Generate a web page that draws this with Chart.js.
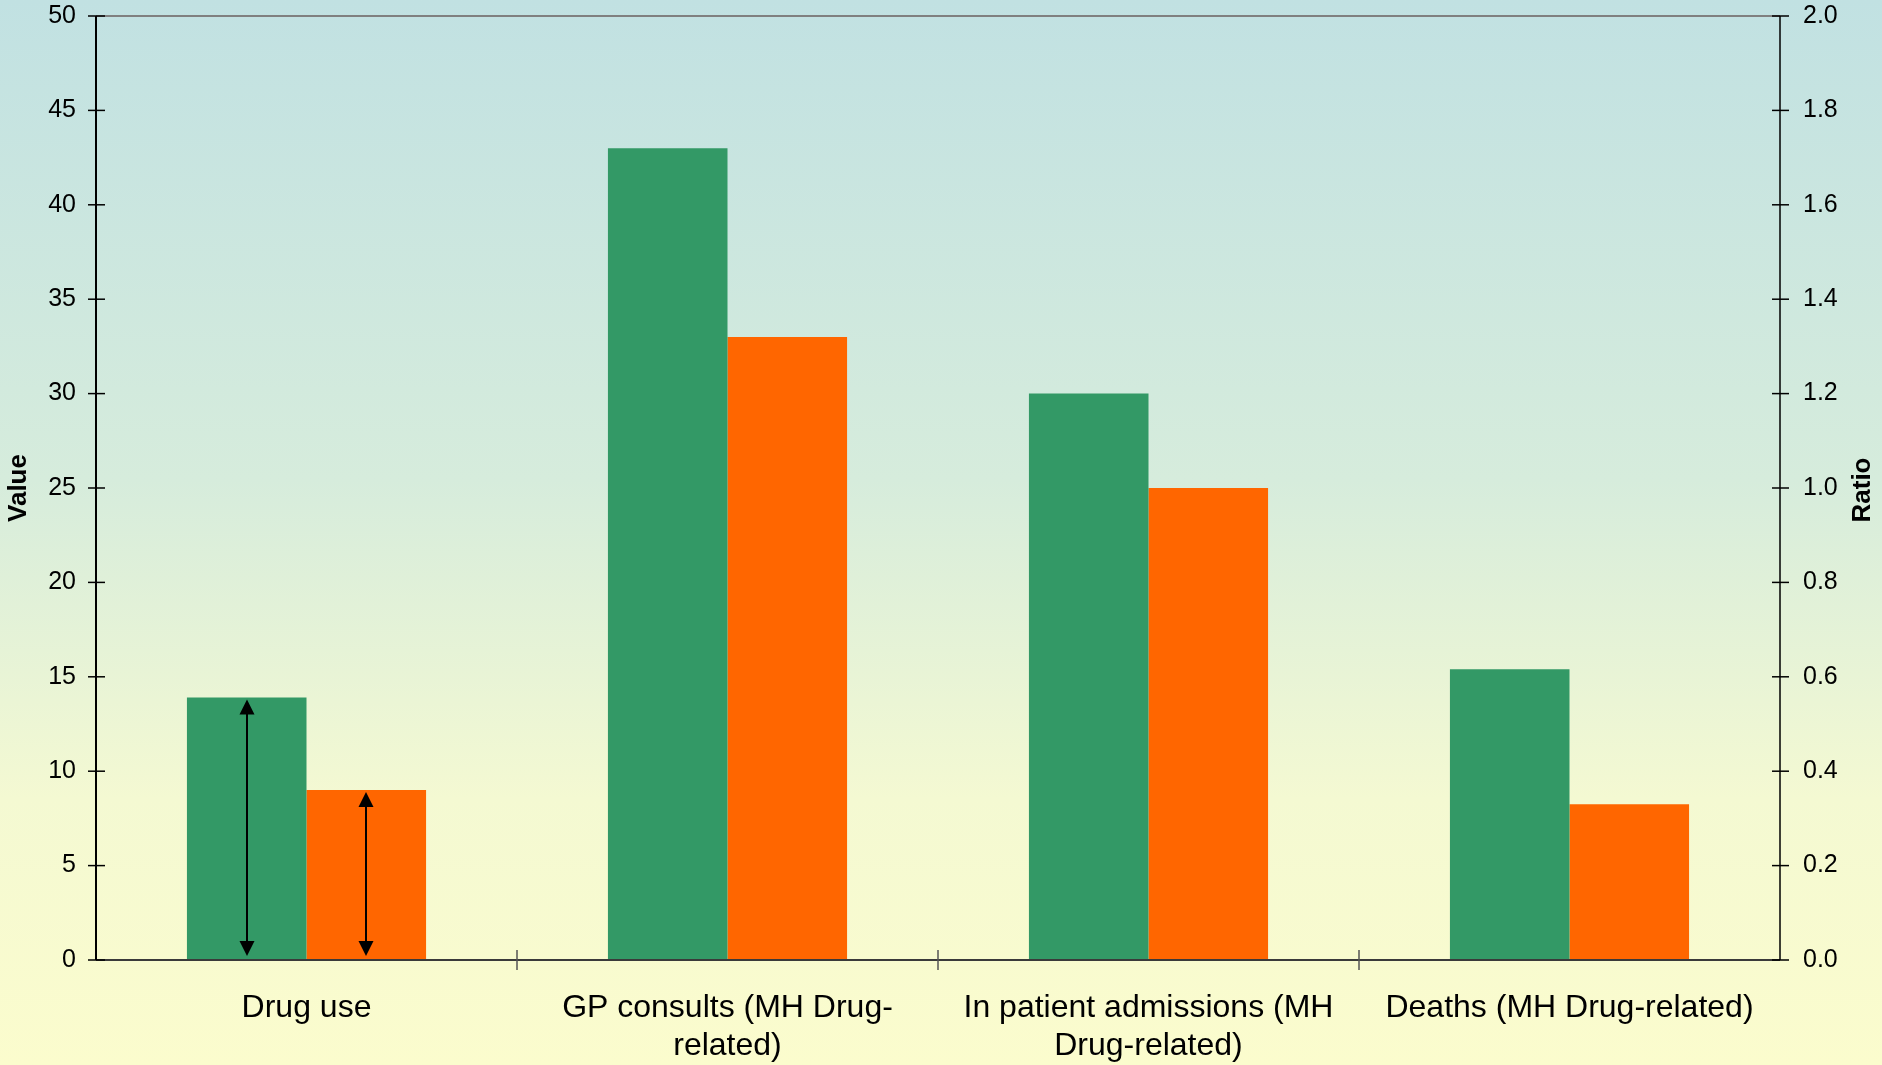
<!DOCTYPE html>
<html>
<head>
<meta charset="utf-8">
<script src="https://cdn.jsdelivr.net/npm/chart.js@4/dist/chart.umd.min.js"></script>
<style>
  html, body { margin: 0; padding: 0; }
  body {
    width: 1882px; height: 1065px; overflow: hidden;
    background: linear-gradient(to bottom, #c1e1e2 0%, #d6ecdc 45%, #f4f9d2 75%, #fbfccd 100%);
  }
  #wrap { width: 1882px; height: 1065px; position: relative; }
</style>
</head>
<body>
<div id="wrap"><canvas id="grafico"></canvas></div>
<script>
const categorias = [
  "Drug use",
  ["GP consults (MH Drug-", "related)"],
  ["In patient admissions (MH", "Drug-related)"],
  "Deaths (MH Drug-related)"
];
const serieVerde = [13.9, 43, 30, 15.4];
const serieLaranja = [9, 33, 25, 8.25];
const ticksValor = [0, 5, 10, 15, 20, 25, 30, 35, 40, 45, 50];
const ticksRatio = [0, 0.2, 0.4, 0.6, 0.8, 1.0, 1.2, 1.4, 1.6, 1.8, 2.0];

const fonte = "Liberation Sans, Arial, sans-serif";

// eixo com tracinhos cruzando a linha, titulos girados e setas duplas
const enfeites = {
  id: 'enfeites',
  afterDatasetsDraw(chart) {
    const c = chart.ctx;
    const a = chart.chartArea;
    c.save();

    // linha de cima (cinza)
    c.strokeStyle = '#808080';
    c.lineWidth = 2;
    c.beginPath(); c.moveTo(a.left, a.top); c.lineTo(a.right, a.top); c.stroke();

    // eixo x
    c.strokeStyle = '#3a3a3a';
    c.lineWidth = 2;
    c.beginPath(); c.moveTo(a.left, a.bottom); c.lineTo(a.right, a.bottom); c.stroke();
    const passo = (a.right - a.left) / categorias.length;
    c.lineWidth = 1.5;
    c.strokeStyle = '#555';
    for (let i = 1; i < categorias.length; i++) {
      const x = a.left + i * passo;
      c.beginPath(); c.moveTo(x, a.bottom - 10); c.lineTo(x, a.bottom + 10); c.stroke();
    }

    // eixos y
    c.strokeStyle = '#000';
    c.lineWidth = 2;
    c.beginPath(); c.moveTo(a.left, a.top); c.lineTo(a.left, a.bottom); c.stroke();
    c.lineWidth = 1.5;
    c.beginPath(); c.moveTo(a.right, a.top); c.lineTo(a.right, a.bottom); c.stroke();
    const yv = chart.scales.y, yr = chart.scales.y2;
    c.lineWidth = 1.5;
    ticksValor.forEach(v => {
      const y = yv.getPixelForValue(v);
      c.beginPath(); c.moveTo(a.left - 8, y); c.lineTo(a.left + 9, y); c.stroke();
    });
    ticksRatio.forEach(v => {
      const y = yr.getPixelForValue(v);
      c.beginPath(); c.moveTo(a.right - 8, y); c.lineTo(a.right + 9, y); c.stroke();
    });

    // setas na primeira categoria
    [0, 1].forEach(d => {
      const bar = chart.getDatasetMeta(d).data[0];
      const x = Math.round(bar.x);
      const topo = bar.y + 2, fundo = bar.base - 4;
      c.strokeStyle = '#000';
      c.fillStyle = '#000';
      c.lineWidth = 2;
      c.beginPath(); c.moveTo(x, topo + 10); c.lineTo(x, fundo - 10); c.stroke();
      c.beginPath(); c.moveTo(x, topo); c.lineTo(x - 7.5, topo + 15); c.lineTo(x + 7.5, topo + 15); c.closePath(); c.fill();
      c.beginPath(); c.moveTo(x, fundo); c.lineTo(x - 7.5, fundo - 15); c.lineTo(x + 7.5, fundo - 15); c.closePath(); c.fill();
    });

    // titulos dos eixos
    c.fillStyle = '#000';
    c.font = "bold 26px " + fonte;
    c.textAlign = 'center';
    c.textBaseline = 'middle';
    const meio = (a.top + a.bottom) / 2;
    c.save(); c.translate(19, meio); c.rotate(-Math.PI / 2); c.fillText('Value', 0, 0); c.restore();
    c.save(); c.translate(1863, meio + 2); c.rotate(-Math.PI / 2); c.fillText('Ratio', 0, 0); c.restore();

    c.restore();
  }
};

const semSobra = s => { s.paddingTop = 0; s.paddingBottom = 0; };

const ctx = document.getElementById("grafico").getContext("2d");
const chart = new Chart(ctx, {
  type: 'bar',
  data: {
    labels: categorias,
    datasets: [
      { label: 'A', data: serieVerde, backgroundColor: '#339966', yAxisID: 'y' },
      { label: 'B', data: serieLaranja, backgroundColor: '#ff6600', yAxisID: 'y' }
    ]
  },
  options: {
    responsive: true,
    maintainAspectRatio: false,
    animation: false,
    layout: { padding: { top: 16, left: 0, right: 0, bottom: 0 } },
    datasets: { bar: { categoryPercentage: 0.568, barPercentage: 1.0 } },
    scales: {
      x: {
        grid: { display: false, drawTicks: false },
        border: { display: false },
        ticks: {
          color: '#000',
          font: { family: fonte, size: 32 },
          padding: 29,
          maxRotation: 0,
          autoSkip: false
        },
        afterFit: s => { s.height = 105; s.paddingLeft = 0; s.paddingRight = 0; }
      },
      y: {
        position: 'left',
        min: 0, max: 50,
        grid: { display: false, drawTicks: false },
        border: { display: false },
        ticks: {
          stepSize: 5,
          color: '#000',
          font: { family: fonte, size: 25 },
          padding: 20
        },
        afterFit: s => { s.width = 96; semSobra(s); }
      },
      y2: {
        position: 'right',
        min: 0, max: 2,
        grid: { display: false, drawTicks: false },
        border: { display: false },
        ticks: {
          stepSize: 0.2,
          color: '#000',
          font: { family: fonte, size: 25 },
          padding: 23,
          callback: v => v.toFixed(1)
        },
        afterFit: s => { s.width = 102; semSobra(s); }
      }
    },
    plugins: {
      legend: { display: false },
      tooltip: { enabled: false }
    }
  },
  plugins: [enfeites]
});
</script>
</body>
</html>
